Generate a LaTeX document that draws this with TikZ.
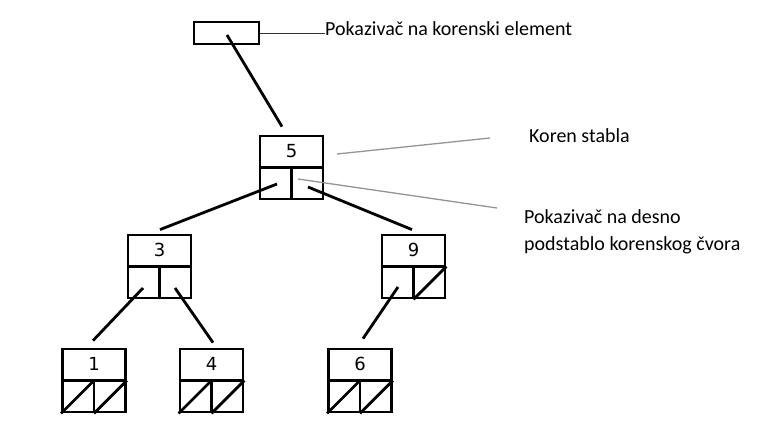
\documentclass[tikz,border=0pt]{standalone}
\usepackage{fontspec}
\setmainfont{Carlito}
\newfontfamily\digitfont{DejaVu Sans}
\usetikzlibrary{calc}
\tikzset{
  x=1pt, y=-1pt,
  tbox/.style={draw, line width=2.8pt, minimum width=63pt, minimum height=63pt, inner sep=0pt},
  ptrbox/.style={draw, line width=2.8pt, minimum width=65pt, minimum height=22pt, inner sep=0pt},
  cellline/.style={line width=2.8pt},
  edge/.style={line width=2.8pt},
  num/.style={font=\digitfont\fontsize{18}{21}\selectfont, inner sep=0pt},
  lbl/.style={font=\fontsize{20}{24}\selectfont, anchor=base west, inner sep=0pt},
  callout/.style={line width=1.3pt, color=black!42},
  thinline/.style={line width=0.9pt, color=black!80},
}
\newcommand{\treenode}[4]{% name, x, y, number
  \node[tbox] (#1) at (#2,#3) {};
  \node[num] (#1num) at ($(#1.north)+(0,16)$) {#4};
  \draw[cellline] (#1.west) -- (#1.east);
  \draw[cellline] (#1.center) -- (#1.south);
}
\newcommand{\nullleft}[1]{\draw[cellline] (#1.south west) -- (#1.center);}
\newcommand{\nullright}[1]{\draw[cellline] (#1.south) -- (#1.east);}
\begin{document}
\begin{tikzpicture}
\useasboundingbox (0,0) rectangle (768,426);
% root pointer
\node[ptrbox] (root) at (226.5,33) {};
\node[lbl] (rootlbl) at (325,35) {Pokaziva\v{c} na korenski element};
\draw[thinline] (root.east) -- (rootlbl.west |- root.east);

% nodes
\treenode{n5}{291.5}{167.5}{5}
\treenode{n3}{159.5}{266.5}{3}
\treenode{n9}{413.5}{266.5}{9}
\treenode{n1}{94}{380.5}{1}
\treenode{n4}{211.5}{380.5}{4}
\treenode{n6}{360}{380.5}{6}

% null pointers
\nullright{n9}
\nullleft{n1}\nullright{n1}
\nullleft{n4}\nullright{n4}
\nullleft{n6}\nullright{n6}

% pointer start / end points
\coordinate (rootp) at ($(root.center)+(0.5,2)$);
\coordinate (n5top) at ($(n5.north)+(-9.5,-8)$);
\coordinate (n5L) at ($(n5.center)+(-14.5,16.5)$);
\coordinate (n5R) at ($(n5.center)+(16.5,19.5)$);
\coordinate (n3top) at ($(n3.north)+(0.5,-4)$);
\coordinate (n9top) at ($(n9.north)+(-1.5,-4)$);
\coordinate (n3L) at ($(n3.center)+(-16.5,21.5)$);
\coordinate (n3R) at ($(n3.center)+(15.5,21.5)$);
\coordinate (n9L) at ($(n9.center)+(-15.5,20.5)$);
\coordinate (n1top) at ($(n1.north)+(-1,-7)$);
\coordinate (n4top) at ($(n4.north)+(1.5,-5)$);
\coordinate (n6top) at ($(n6.north)+(3,-9)$);

\draw[edge] (rootp) -- (n5top);
\draw[edge] (n5L) -- (n3top);
\draw[edge] (n5R) -- (n9top);
\draw[edge] (n3L) -- (n1top);
\draw[edge] (n3R) -- (n4top);
\draw[edge] (n9L) -- (n6top);

% callouts
\node[lbl] (korenlbl) at (529,142) {Koren stabla};
\node[lbl] (desnolbl) at (524,223) {Pokaziva\v{c} na desno};
\node[lbl] (desnolbl2) at (524,250) {podstablo korenskog \v{c}vora};
\coordinate (k1) at (337,154);
\coordinate (k2) at (490,138);
\coordinate (d1) at (298,179);
\coordinate (d2) at (497,208);
\draw[callout] (k1) -- (k2);
\draw[callout] (d1) -- (d2);
\end{tikzpicture}
\end{document}
